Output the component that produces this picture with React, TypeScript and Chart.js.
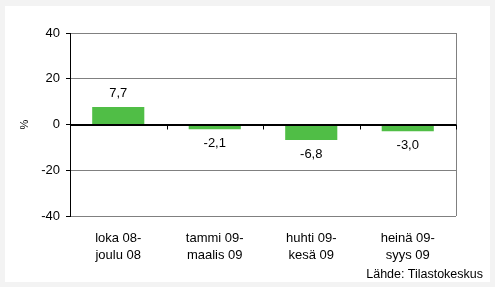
import React, { useEffect, useRef } from "react";
import { Chart, registerables } from "chart.js";

Chart.register(...registerables);

const categories: string[][] = [
  ["loka 08-", "joulu 08"],
  ["tammi 09-", "maalis 09"],
  ["huhti 09-", "kesä 09"],
  ["heinä 09-", "syys 09"],
];
const values: number[] = [7.7, -2.1, -6.8, -3.0];
const yTicks: number[] = [-40, -20, 0, 20, 40];
const yTitle = "%";
const sourceText = "Lähde: Tilastokeskus";

const FONT = "'Liberation Sans', Arial, sans-serif";

const fmt = (v: number) => v.toFixed(1).replace(".", ",");

const decorPlugin = {
  id: "decor",
  afterDatasetsDraw(chart: any) {
    const ctx = chart.ctx;
    const area = chart.chartArea;
    const x = chart.scales.x;
    const y = chart.scales.y;
    const y0 = y.getPixelForValue(0);
    ctx.save();
    // right border
    ctx.strokeStyle = "#808080";
    ctx.lineWidth = 1;
    ctx.beginPath();
    ctx.moveTo(Math.round(area.right) + 0.5, area.top);
    ctx.lineTo(Math.round(area.right) + 0.5, area.bottom);
    ctx.stroke();
    // zero line
    ctx.strokeStyle = "#000000";
    ctx.beginPath();
    ctx.moveTo(area.left, Math.round(y0) + 0.5);
    ctx.lineTo(area.right, Math.round(y0) + 0.5);
    ctx.stroke();
    // category tick marks on zero line
    const n = categories.length;
    const w = (x.right - x.left) / n;
    for (let i = 1; i <= n; i++) {
      const px = Math.round(x.left + w * i) + 0.5;
      ctx.beginPath();
      ctx.moveTo(px, y0);
      ctx.lineTo(px, y0 + 5);
      ctx.stroke();
    }
    // value labels
    const meta = chart.getDatasetMeta(0);
    ctx.fillStyle = "#000000";
    ctx.font = `13px ${FONT}`;
    ctx.textAlign = "center";
    meta.data.forEach((el: any, i: number) => {
      const v = values[i];
      if (v >= 0) {
        ctx.textBaseline = "bottom";
        ctx.fillText(fmt(v), el.x, el.y - 7);
      } else {
        ctx.textBaseline = "top";
        ctx.fillText(fmt(v), el.x, el.y + 8);
      }
    });
    ctx.restore();
  },
};

export default function App() {
  const ref = useRef<HTMLCanvasElement | null>(null);

  useEffect(() => {
    document.body.style.margin = "0";
    if (!ref.current) return;
    const chart = new Chart(ref.current, {
      type: "bar",
      data: {
        labels: categories,
        datasets: [
          {
            data: values,
            backgroundColor: "#50BE46",
            borderWidth: 0,
            categoryPercentage: 0.54,
            barPercentage: 1,
          },
        ],
      },
      options: {
        animation: false,
        responsive: false,
        maintainAspectRatio: false,
        layout: { padding: { left: 5, right: 39, top: 33, bottom: 0 } },
        plugins: {
          legend: { display: false },
          tooltip: { enabled: false },
        },
        scales: {
          x: {
            grid: { display: false, drawTicks: false },
            border: { display: false },
            ticks: {
              color: "#000000",
              font: { family: FONT, size: 13, lineHeight: 1.3 },
              padding: 14,
              maxRotation: 0,
              autoSkip: false,
            },
            afterFit: (s: any) => {
              s.height = 287 - 216;
            },
          },
          y: {
            min: -40,
            max: 40,
            afterBuildTicks: (s: any) => {
              s.ticks = yTicks.map((v) => ({ value: v }));
            },
            grid: {
              color: (c: any) => (c.tick && c.tick.value === 0 ? "#000000" : "#808080"),
              tickColor: "#000000",
              tickLength: 4,
            },
            border: { display: true, color: "#000000" },
            ticks: {
              color: "#000000",
              font: { family: FONT, size: 13 },
              padding: 6,
            },
            title: {
              display: true,
              text: yTitle,
              color: "#000000",
              font: { family: FONT, size: 11 },
              padding: { top: 13, bottom: 0 },
            },
            afterFit: (s: any) => {
              s.width = 70 - 5;
            },
          },
        },
      },
      plugins: [decorPlugin],
    });
    return () => chart.destroy();
  }, []);

  return (
    <div
      style={{
        position: "relative",
        width: 495,
        height: 287,
        background: "#f3f3f3",
        overflow: "hidden",
      }}
    >
      <div
        style={{
          position: "absolute",
          left: 5,
          top: 6,
          width: 485,
          height: 276,
          background: "#ffffff",
        }}
      />
      <canvas
        ref={ref}
        width={495}
        height={287}
        style={{ position: "absolute", left: 0, top: 0, width: 495, height: 287 }}
      />
      <div
        style={{
          position: "absolute",
          right: 12,
          top: 267,
          fontFamily: FONT,
          fontSize: 12.5,
          color: "#000000",
          lineHeight: "14px",
          whiteSpace: "nowrap",
        }}
      >
        {sourceText}
      </div>
    </div>
  );
}
